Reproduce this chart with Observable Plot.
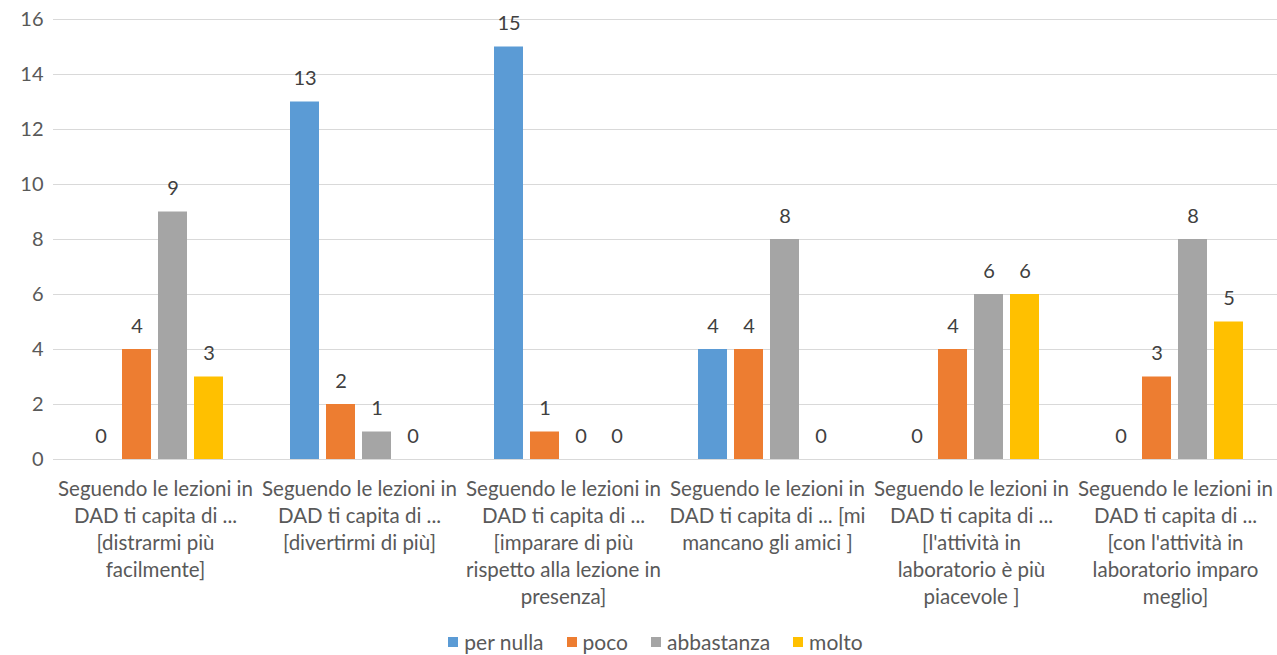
<!DOCTYPE html>
<html><head><meta charset="utf-8">
<script src="https://cdn.jsdelivr.net/npm/d3@7"></script>
<script src="https://cdn.jsdelivr.net/npm/@observablehq/plot@0.6"></script>
<style>
body{margin:0;background:#fff;font-family:Lato,sans-serif;}
#legend{display:flex;justify-content:center;gap:23px;font-size:21px;color:#595959;height:27px;align-items:center;padding-left:34px;}
#legend span.item{display:flex;align-items:center;}
.sw{display:inline-block;width:10px;height:10px;margin-right:6px;}
</style></head><body>
<div id="chart"></div><div id="legend"></div>
<script>
const categories = [
  "Seguendo le lezioni in\nDAD ti capita di ...\n[distrarmi più\nfacilmente]",
  "Seguendo le lezioni in\nDAD ti capita di ...\n[divertirmi di più]",
  "Seguendo le lezioni in\nDAD ti capita di ...\n[imparare di più\nrispetto alla lezione in\npresenza]",
  "Seguendo le lezioni in\nDAD ti capita di ... [mi\nmancano gli amici ]",
  "Seguendo le lezioni in\nDAD ti capita di ...\n[l'attività in\nlaboratorio è più\npiacevole ]",
  "Seguendo le lezioni in\nDAD ti capita di ...\n[con l'attività in\nlaboratorio imparo\nmeglio]"
];
const seriesNames = ["per nulla", "poco", "abbastanza", "molto"];
const perNulla   = [0, 13, 15, 4, 0, 0];
const poco       = [4, 2, 1, 4, 4, 3];
const abbastanza = [9, 1, 0, 8, 6, 8];
const molto      = [3, 0, 0, 0, 6, 5];
const colors = ["#5B9BD5", "#ED7D31", "#A5A5A5", "#FFC000"];
const yTicks = [0, 2, 4, 6, 8, 10, 12, 14, 16];

const values = [perNulla, poco, abbastanza, molto];
const data = categories.flatMap((c, i) => seriesNames.map((s, j) => ({category: c, series: s, value: values[j][i]})));

const chart = Plot.plot({
  width: 1277, height: 628,
  marginLeft: 52, marginRight: 0, marginTop: 19, marginBottom: 169,
  style: {fontFamily: "Lato, sans-serif", fontSize: "20px", color: "#595959", background: "#fff"},
  fx: {domain: categories, paddingInner: 0, paddingOuter: 0, label: null},
  x: {domain: seriesNames, paddingInner: 0.19, paddingOuter: 0.854, axis: null},
  y: {domain: [0, 16], ticks: yTicks, label: null},
  color: {domain: seriesNames, range: colors},
  marks: [
    Plot.ruleY(yTicks, {stroke: "#d9d9d9", strokeWidth: 1}),
    Plot.axisY({ticks: yTicks, tickSize: 0, tickPadding: 10, label: null, fontSize: 20}),
    Plot.axisFx({anchor: "bottom", tickSize: 0, tickPadding: 17, label: null, fontSize: 20.5, lineHeight: 1.32}),
    Plot.barY(data, {fx: "category", x: "series", y: "value", fill: "series"}),
    Plot.text(data, {fx: "category", x: "series", y: "value", text: d => String(d.value), dy: -23, fill: "#404040", fontSize: 20})
  ]
});
document.getElementById("chart").appendChild(chart);

const legend = document.getElementById("legend");
seriesNames.forEach((s, i) => {
  const item = document.createElement("span");
  item.className = "item";
  const sw = document.createElement("span");
  sw.className = "sw";
  sw.style.background = colors[i];
  item.appendChild(sw);
  item.appendChild(document.createTextNode(s));
  legend.appendChild(item);
});
</script>
</body></html>
